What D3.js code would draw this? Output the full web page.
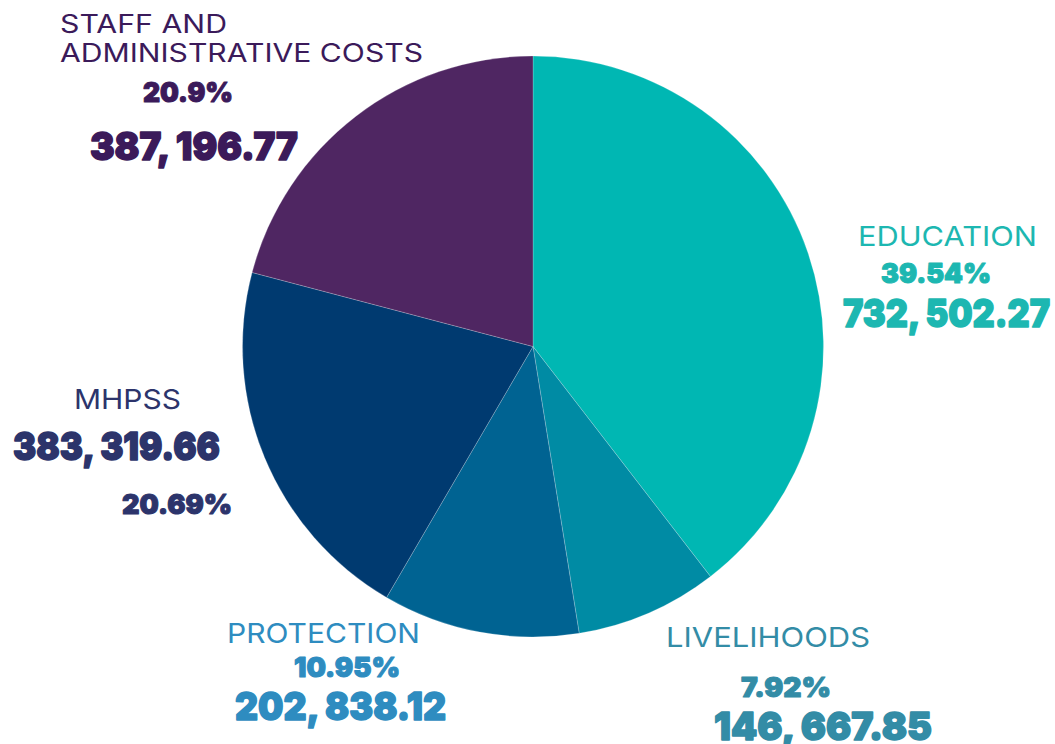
<!DOCTYPE html>
<html><head><meta charset="utf-8">
<script src="https://cdn.jsdelivr.net/npm/d3@7"></script>
<style>
html,body{margin:0;padding:0;background:#fff;}
svg{display:block;}
</style></head>
<body>
<svg id="chart" width="1055" height="744"></svg>
<script>
const categories = ["EDUCATION", "LIVELIHOODS", "PROTECTION", "MHPSS", "STAFF AND ADMINISTRATIVE COSTS"];
const values = [732502.27, 146667.85, 202838.12, 383319.66, 387196.77];
const percentLabels = ["39.54%", "7.92%", "10.95%", "20.69%", "20.9%"];
const valueLabels = ["732, 502.27", "146, 667.85", "202, 838.12", "383, 319.66", "387, 196.77"];
const sliceColors = ["#00b7b3", "#008ba4", "#006392", "#003a70", "#4f2662"];
const textColors = ["#1db7b1", "#338ca6", "#2e8cc0", "#2c346b", "#3b1a5a"];

const svg = d3.select("#chart");
const cx = 533, cy = 346.5, r = 290.5;

const pie = d3.pie().sort(null).value(d => d)(values);
const arc = d3.arc().innerRadius(0).outerRadius(r);
const g = svg.append("g").attr("transform", `translate(${cx},${cy})`);
g.selectAll("path").data(pie).join("path")
  .attr("d", arc)
  .attr("fill", (d, i) => sliceColors[i])
  .attr("stroke", "rgba(255,255,255,0.35)")
  .attr("stroke-width", 0.6);

// label layout: [x, baseline y, width]
const layout = [
  { name: [[858, 246, 179]], pct: [881, 283, 110], val: [843, 327, 207] },
  { name: [[666, 647, 204]], pct: [741, 697, 90], val: [714, 740, 218] },
  { name: [[227, 643, 193]], pct: [294, 677, 106], val: [235, 720, 211] },
  { name: [[74, 409, 107]], pct: [122, 514, 110], val: [13, 460, 207] },
  { name: [[60, 33, 167], [60, 62, 363]], pct: [143, 102, 90], val: [90, 160, 208] }
];
const nameLines = [["EDUCATION"], ["LIVELIHOODS"], ["PROTECTION"], ["MHPSS"], ["STAFF AND", "ADMINISTRATIVE COSTS"]];
const nameSizes = [27.5, 27.5, 27.5, 27.5, 25.5];

const labels = svg.append("g");
categories.forEach((c, i) => {
  const L = layout[i];
  nameLines[i].forEach((line, j) => {
    const [x, y, w] = L.name[j];
    labels.append("text")
      .attr("x", x).attr("y", y)
      .attr("textLength", w).attr("lengthAdjust", "spacingAndGlyphs")
      .attr("font-family", "Inter, 'Noto Sans', sans-serif")
      .attr("font-weight", 400)
      .attr("font-size", nameSizes[i])
      .attr("fill", textColors[i])
      .text(line);
  });
  const [px, py, pw] = L.pct;
  labels.append("text")
    .attr("x", px).attr("y", py)
    .attr("textLength", pw).attr("lengthAdjust", "spacingAndGlyphs")
    .attr("font-family", "Inter, 'Noto Sans', sans-serif")
    .attr("font-weight", 900)
    .attr("font-size", 27.5)
    .attr("fill", textColors[i])
    .attr("stroke", textColors[i])
    .attr("stroke-width", 1.1)
    .attr("stroke-linejoin", "round")
    .text(percentLabels[i]);
  const [vx, vy, vw] = L.val;
  labels.append("text")
    .attr("x", vx).attr("y", vy)
    .attr("textLength", vw).attr("lengthAdjust", "spacingAndGlyphs")
    .attr("font-family", "Inter, 'Noto Sans', sans-serif")
    .attr("font-weight", 900)
    .attr("font-size", 39)
    .attr("fill", textColors[i])
    .attr("stroke", textColors[i])
    .attr("stroke-width", 1.5)
    .attr("stroke-linejoin", "round")
    .text(valueLabels[i]);
});
</script>
</body></html>
